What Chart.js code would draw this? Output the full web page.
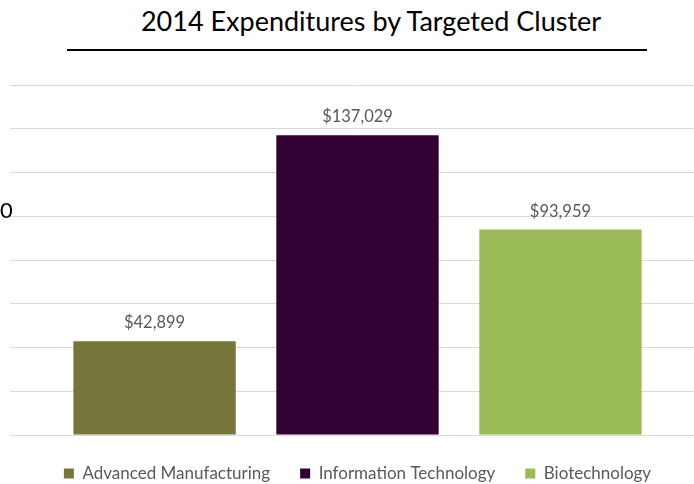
<!DOCTYPE html>
<html>
<head>
<meta charset="utf-8">
<script src="https://cdn.jsdelivr.net/npm/chart.js@4/dist/chart.umd.min.js"></script>
<style>
  html, body { margin:0; padding:0; background:#fff; overflow:hidden; width:694px; height:484px; }
  #wrap { position:relative; width:694px; height:484px; overflow:hidden; }
  #title { position:absolute; left:0; top:4px; width:694px; text-align:center; padding-left:48px; box-sizing:border-box;
           font-family:Lato, sans-serif; font-size:27px; color:#000; }
  #rule { position:absolute; left:67px; top:49px; width:580px; height:2px; background:#000; }
  #stray { position:absolute; left:0; top:196px; font-family:Lato, sans-serif; font-size:22px; color:#000; }
  canvas { position:absolute; left:0; top:0; }
</style>
</head>
<body>
<div id="wrap">
  <div id="title">2014 Expenditures by Targeted Cluster</div>
  <div id="rule"></div>
  <canvas id="c" width="705" height="494"></canvas>
  <div id="stray">0</div>
</div>
<script>
const clusters = ['Advanced Manufacturing', 'Information Technology', 'Biotechnology'];
const spending = [42899, 137029, 93959];
const colors = ['#76763A', '#330033', '#9BBB59'];

const valueLabels = {
  id: 'valueLabels',
  afterDatasetsDraw(chart){
    const ctx = chart.ctx;
    ctx.save();
    ctx.font = '16.5px Lato, sans-serif';
    ctx.fillStyle = '#595959';
    ctx.textAlign = 'center';
    ctx.textBaseline = 'bottom';
    chart.data.datasets.forEach((ds, i) => {
      const el = chart.getDatasetMeta(i).data[0];
      ctx.fillText('$' + ds.data[0].toLocaleString('en-US'), el.x, el.y - 10);
    });
    ctx.restore();
  }
};

new Chart(document.getElementById('c'), {
  type: 'bar',
  data: {
    labels: [''],
    datasets: clusters.map((name, i) => ({
      label: name,
      data: [spending[i]],
      backgroundColor: colors[i],
      borderWidth: 0
    }))
  },
  options: {
    responsive: false,
    animation: false,
    layout: { padding: { left: 10, right: 0, top: 85, bottom: 2 } },
    datasets: { bar: { categoryPercentage: 0.876, barPercentage: 0.80 } },
    scales: {
      x: { display: false },
      y: {
        min: 0, max: 160000,
        ticks: { display: false, stepSize: 20000 },
        grid: { color: '#D9D9D9', lineWidth: 1, drawTicks: false },
        border: { display: false }
      }
    },
    plugins: {
      title: { display: false },
      tooltip: { enabled: false },
      legend: {
        position: 'bottom',
        labels: {
          boxWidth: 10, boxHeight: 10, padding: 30,
          color: '#595959',
          font: { family: 'Lato, sans-serif', size: 17 }
        }
      }
    }
  },
  plugins: [valueLabels]
});
</script>
</body>
</html>
